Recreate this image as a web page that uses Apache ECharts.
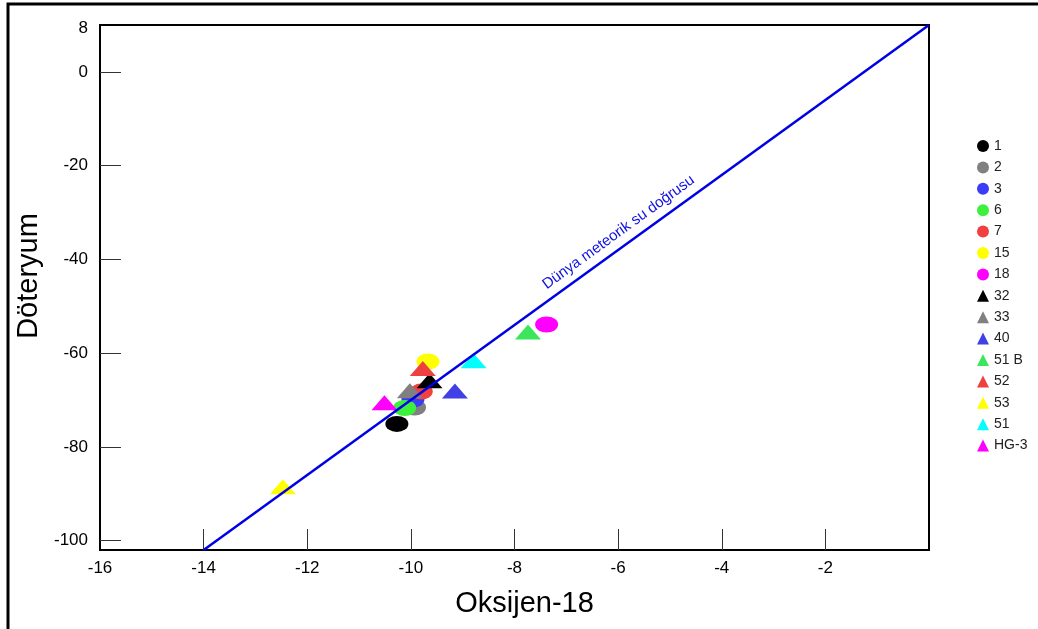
<!DOCTYPE html>
<html>
<head>
<meta charset="utf-8">
<script src="https://cdn.jsdelivr.net/npm/echarts@6/dist/echarts.min.js"></script>
<style>
html, body { margin: 0; padding: 0; background: #fff; }
#chart { width: 1038px; height: 629px; }
</style>
</head>
<body>
<div id="chart"></div>
<script>
// sample values
var sampleNames = ['1', '2', '3', '6', '7', '15', '18', '32', '33', '40', '51 B', '52', '53', '51', 'HG-3'];
var oxygen18 = [-10.27, -9.93, -9.96, -10.12, -9.80, -9.67, -7.38, -9.64, -10.02, -9.15, -7.74, -9.77, -12.47, -8.79, -10.51];
var deuterium = [-75.1, -71.6, -69.9, -71.7, -68.2, -61.8, -53.9, -65.9, -68.0, -68.1, -55.5, -63.3, -88.5, -61.6, -70.6];
var sampleShapes = ['circle', 'circle', 'circle', 'circle', 'circle', 'circle', 'circle',
    'triangle', 'triangle', 'triangle', 'triangle', 'triangle', 'triangle', 'triangle', 'triangle'];
var sampleColors = ['#000000', '#808080', '#3c3cf5', '#3cf03c', '#f04040', '#ffff00', '#ff00ff',
    '#000000', '#808080', '#4040e6', '#3ce65a', '#ee4040', '#ffff00', '#00ffff', '#ff00ff'];

// global meteoric water line end points
var gmwlX = [-14, 0];
var gmwlY = [-102, 10];
var gmwlName = 'Dünya meteorik su doğrusu';

var xTickValues = [-14, -12, -10, -8, -6, -4, -2];
var xLabelValues = [-16, -14, -12, -10, -8, -6, -4, -2];
var yTickValues = [-100, -80, -60, -40, -20, 0];
var yLabelValues = [-100, -80, -60, -40, -20, 0, 9.4];
var yLabelTexts = ['-100', '-80', '-60', '-40', '-20', '0', '8'];

var chart = echarts.init(document.getElementById('chart'), null, {renderer: 'canvas'});

var series = [];
for (var i = 0; i < sampleNames.length; i++) {
    var isCircle = sampleShapes[i] === 'circle';
    series.push({
        name: sampleNames[i],
        type: 'scatter',
        symbol: sampleShapes[i],
        symbolSize: isCircle ? [23, 16] : [26, 15],
        itemStyle: {color: sampleColors[i], opacity: 1},
        z: isCircle ? 2 : 3,
        data: [[oxygen18[i], deuterium[i]]]
    });
}

series.push({
    name: gmwlName,
    type: 'line',
    symbol: 'none',
    silent: true,
    z: 10,
    lineStyle: {color: '#0000e6', width: 2.5},
    data: [[gmwlX[0], gmwlY[0]], [gmwlX[1], gmwlY[1]]],
    markLine: {
        silent: true,
        symbol: 'none',
        lineStyle: {color: 'rgba(0,0,0,0)', width: 1},
        label: {
            show: true,
            position: 'insideMiddleTop',
            formatter: gmwlName,
            color: '#1010e0',
            fontFamily: 'Liberation Sans',
            fontSize: 15,
            distance: 8,
            offset: [70, 0]
        },
        data: [[{coord: [gmwlX[0], gmwlY[0]]}, {coord: [gmwlX[1], gmwlY[1]]}]]
    }
});

var option = {
    animation: false,
    backgroundColor: '#fff',
    textStyle: {fontFamily: 'Liberation Sans'},
    grid: {left: 100, top: 25, right: 109, bottom: 79, show: true, borderColor: '#000', borderWidth: 2},
    graphic: [{
        type: 'rect',
        shape: {x: 8, y: 4, width: 1040, height: 640},
        style: {fill: 'none', stroke: '#000', lineWidth: 3},
        silent: true
    }],
    legend: {
        orient: 'vertical',
        left: 972,
        top: 134,
        itemWidth: 12,
        itemHeight: 12,
        itemGap: 7.4,
        textStyle: {fontSize: 14, color: '#222', fontFamily: 'Liberation Sans'},
        data: sampleNames.map(function (n, i) {
            return {name: n, icon: sampleShapes[i]};
        })
    },
    xAxis: {
        type: 'value',
        min: -16,
        max: 0,
        interval: 2,
        name: 'Oksijen-18',
        nameLocation: 'middle',
        nameGap: 39,
        nameTextStyle: {fontSize: 29, color: '#000', padding: [0, 0, 0, 20]},
        axisLine: {onZero: false, lineStyle: {color: '#000', width: 2}},
        axisTick: {show: true, inside: true, length: 21, customValues: xTickValues, lineStyle: {color: '#333', width: 1}},
        axisLabel: {customValues: xLabelValues, fontSize: 17, color: '#000', margin: 10},
        splitLine: {show: false}
    },
    yAxis: {
        type: 'value',
        min: -102,
        max: 10,
        name: 'Döteryum',
        nameLocation: 'middle',
        nameGap: 48,
        nameTextStyle: {fontSize: 29, color: '#000', padding: [0, 0, 0, 23]},
        axisLine: {onZero: false, lineStyle: {color: '#000', width: 2}},
        axisTick: {show: true, inside: true, length: 21, customValues: yTickValues, lineStyle: {color: '#333', width: 1}},
        axisLabel: {
            customValues: yLabelValues,
            fontSize: 17,
            color: '#000',
            margin: 12,
            formatter: function (v) {
                var k = yLabelValues.indexOf(v);
                return k >= 0 ? yLabelTexts[k] : '';
            }
        },
        splitLine: {show: false}
    },
    series: series
};

chart.setOption(option);
</script>
</body>
</html>
